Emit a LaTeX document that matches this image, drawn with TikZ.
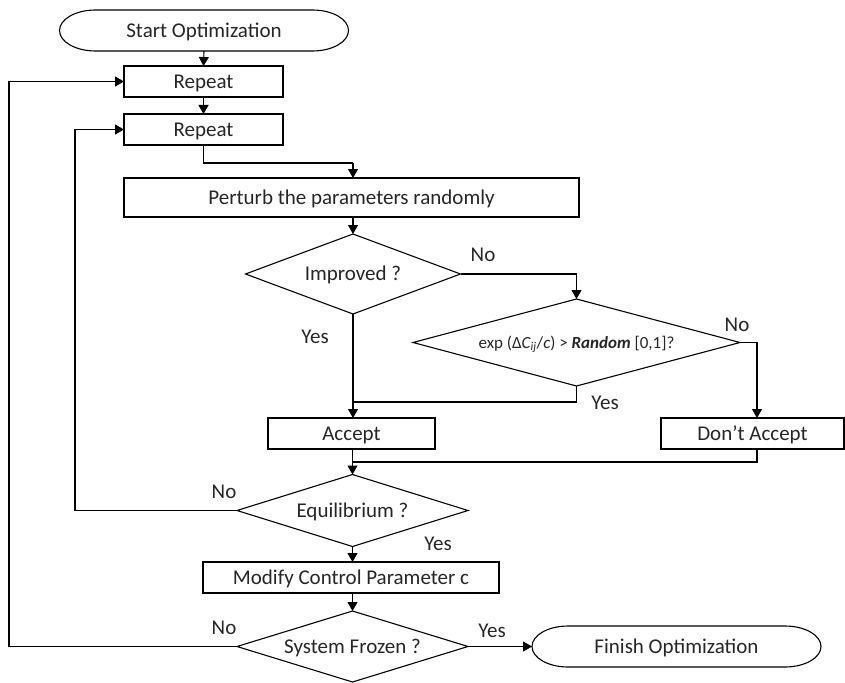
\documentclass[tikz,border=0pt]{standalone}
\usepackage{fontspec}
\setmainfont{Carlito}
\usetikzlibrary{arrows.meta,shapes.geometric}
\begin{document}
\begin{tikzpicture}[x=1pt,y=-1pt,
  font=\fontsize{21}{24}\selectfont,
  every node/.style={inner sep=0pt, outer sep=0pt, text=black!85, text height=13.5pt, text depth=0pt},
  box/.style={draw, rectangle, line width=1.1pt, minimum height=31pt},
  term/.style={rectangle, minimum width=289pt, minimum height=41pt},
  termline/.style={line width=1.1pt},
  decision/.style={draw, diamond, line width=1.1pt},
  lbl/.style={anchor=center},
  link/.style={line width=1.1pt},
  arr/.style={link, -{Triangle[length=9pt,width=10pt]}}]
\useasboundingbox (0,0) rectangle (845,682);

% process nodes
\node[term] (start) at (204,30.5) {Start Optimization};
\node[box, minimum width=159pt] (rep1) at (203.5,81.5) {Repeat};
\node[box, minimum width=159pt] (rep2) at (203.5,129.5) {Repeat};
\node[box, minimum width=455pt, minimum height=39pt] (perturb) at (351.5,197.5) {Perturb the parameters randomly};
\node[decision, aspect=2.69, minimum width=215pt, minimum height=80pt] (improved) at (353,274) {Improved ?};
\node[decision, aspect=3.76, minimum width=327pt, minimum height=87pt, text height=11pt] (expd) at (576.5,342.5)
  {\fontsize{17}{20}\selectfont exp (Δ\textit{C\textsubscript{ij}}/\textit{c}) > \textbf{\textit{Random}} [0,1]?};
\node[box, minimum width=167pt] (accept) at (351.5,433.5) {Accept};
\node[box, minimum width=183pt] (dont) at (752.5,433.5) {Don’t Accept};
\node[decision, aspect=3.2, minimum width=231pt, minimum height=72pt] (equil) at (352.5,510.5) {Equilibrium ?};
\node[box, minimum width=296pt] (modify) at (351,577.5) {Modify Control Parameter c};
\node[decision, aspect=3.25, minimum width=231pt, minimum height=71pt] (frozen) at (352.5,646.5) {System Frozen ?};
\node[term] (finish) at (676.5,646.5) {Finish Optimization};

% terminator outlines with elliptical ends
\foreach \t in {start,finish}{
  \draw[termline] ([xshift=36pt]\t.north west) -- ([xshift=-36pt]\t.north east)
    arc[start angle=90, end angle=-90, x radius=36pt, y radius=20.5pt]
    -- ([xshift=36pt]\t.south west)
    arc[start angle=270, end angle=90, x radius=36pt, y radius=20.5pt] -- cycle;
}

% helper points for routed connectors
\coordinate (j1) at (353,163);
\coordinate (j2) at (353,402);
\coordinate (dontin) at (757,418);
\coordinate (dontout) at (757,449);
\coordinate (j4) at (352.5,462);
\coordinate (innerx) at (75,0);
\coordinate (outerx) at (9,0);

% connectors
\draw[arr] (start.south) -- (rep1.north);
\draw[arr] (rep1.south) -- (rep2.north);
\draw[link] (rep2.south) |- (j1);
\draw[arr] (j1) -- (j1 |- perturb.north);
\draw[arr] (improved.north |- perturb.south) -- (improved.north);
\draw[arr] (improved.east) -| (expd.north);
\draw[arr] (improved.south) -- (improved.south |- accept.north);
\draw[link] (expd.south) |- (j2);
\draw[arr] (expd.east) -| (dontin);
\draw[link] (dontout) |- (j4);
\draw[arr] (equil.north |- accept.south) -- (equil.north);
\draw[arr] (equil.west) -- (equil.west -| innerx) |- (rep2.west);
\draw[arr] (equil.south) -- (equil.south |- modify.north);
\draw[arr] (frozen.north |- modify.south) -- (frozen.north);
\draw[arr] (frozen.west) -- (frozen.west -| outerx) |- (rep1.west);
\draw[arr] (frozen.east) -- (finish.west);

% branch labels
\node[lbl] (l1) at (483,255) {No};
\node[lbl] (l2) at (315,337) {Yes};
\node[lbl] (l3) at (737,325) {No};
\node[lbl] (l4) at (605,403) {Yes};
\node[lbl] (l5) at (224,492) {No};
\node[lbl] (l6) at (438,544) {Yes};
\node[lbl] (l7) at (224,628) {No};
\node[lbl] (l8) at (492,631) {Yes};
\end{tikzpicture}
\end{document}
